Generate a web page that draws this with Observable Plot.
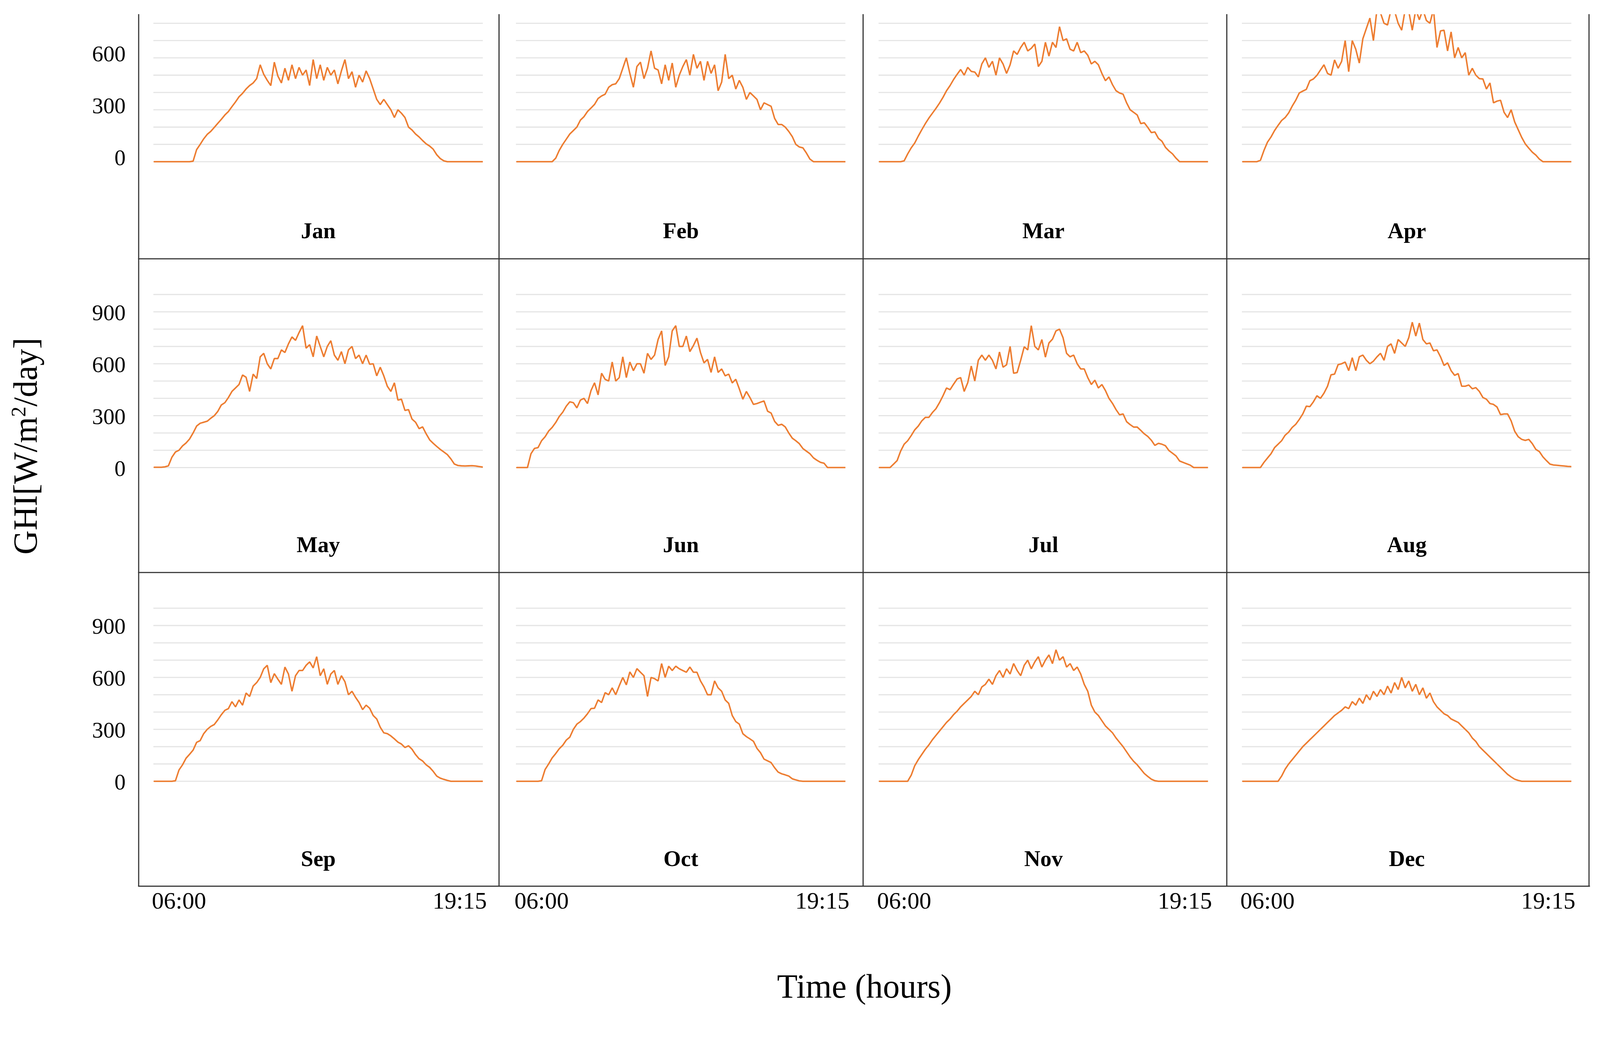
<!DOCTYPE html>
<html><head><meta charset="utf-8">
<script src="https://cdn.jsdelivr.net/npm/d3@7"></script>
<script src="https://cdn.jsdelivr.net/npm/@observablehq/plot@0.6"></script>
<style>
html,body{margin:0;padding:0;background:#fff;overflow:hidden;}
#wrap{position:relative;overflow:hidden;width:4298px;height:2707px;}
#page{position:absolute;left:0;top:0;width:4298px;height:2707px;background:#fff;overflow:hidden;font-family:"Liberation Serif","Times New Roman",serif;color:#000;transform-origin:0 0;}
.panel{position:absolute;}
.panel svg{display:block;overflow:hidden;max-width:none;}
.vline{position:absolute;width:3px;background:#333;}
.hline{position:absolute;height:3px;background:#333;}
#ylabel{position:absolute;left:69px;top:1199px;transform:translate(-50%,-50%) rotate(-90deg);font-size:90px;white-space:nowrap;line-height:1;}
#ylabel sup{font-size:0.62em;vertical-align:0.55em;line-height:0;}
#xlabel{position:absolute;left:2322px;top:2651px;transform:translate(-50%,-50%);font-size:90px;white-space:nowrap;line-height:1;}
</style></head><body><div id="wrap"><div id="page"></div></div>
<script>
// ---- data -------------------------------------------------------------
const times = [
"04:50",
"05:00","05:10","05:20","05:30","05:40","05:50",
"06:00","06:10","06:20","06:30","06:40","06:50",
"07:00","07:10","07:20","07:30","07:40","07:50",
"08:00","08:10","08:20","08:30","08:40","08:50",
"09:00","09:10","09:20","09:30","09:40","09:50",
"10:00","10:10","10:20","10:30","10:40","10:50",
"11:00","11:10","11:20","11:30","11:40","11:50",
"12:00","12:10","12:20","12:30","12:40","12:50",
"13:00","13:10","13:20","13:30","13:40","13:50",
"14:00","14:10","14:20","14:30","14:40","14:50",
"15:00","15:10","15:20","15:30","15:40","15:50",
"16:00","16:10","16:20","16:30","16:40","16:50",
"17:00","17:10","17:20","17:30","17:40","17:50",
"18:00","18:10","18:20","18:30","18:40","18:50",
"19:00","19:10","19:20","19:30","19:40","19:50",
"20:00","20:10","20:20"];

const months = ["Jan","Feb","Mar","Apr","May","Jun","Jul","Aug","Sep","Oct","Nov","Dec"];

const jan = [0,
 0,0,0,0,0,0,
 0,0,0,0,3,70,
 100,132,158,175,198,222,
 245,270,290,318,345,375,
 395,420,440,455,480,560,
 505,470,440,575,495,455,
 540,470,560,480,545,500,
 530,440,590,480,560,470,
 545,500,530,450,525,590,
 480,520,430,500,460,525,
 480,420,360,330,360,330,
 300,255,300,280,255,200,
 183,160,143,122,103,90,
 72,40,18,5,0,0,
 0,0,0,0,0,0,
 0,0,0];
const feb = [0,
 0,0,0,0,0,0,
 0,0,0,0,20,65,
 100,130,160,180,200,240,
 260,290,310,331,365,380,
 390,430,445,450,480,540,
 600,510,430,550,575,480,
 540,640,540,530,450,560,
 470,570,430,500,550,590,
 500,620,540,580,470,580,
 510,560,410,460,620,480,
 500,420,470,430,360,400,
 380,360,300,340,330,320,
 250,215,215,200,175,145,
 100,85,80,50,15,0,
 0,0,0,0,0,0,
 0,0,0];
const mar = [0,
 0,0,0,0,0,0,
 5,45,80,108,148,185,
 220,252,280,308,338,372,
 410,440,475,505,533,500,
 545,522,518,490,565,600,
 545,580,500,600,565,510,
 560,640,620,660,690,640,
 655,680,550,580,690,610,
 690,660,780,700,710,650,
 640,690,630,640,615,565,
 580,560,510,468,490,445,
 410,397,390,340,300,285,
 270,220,225,198,168,172,
 135,118,83,62,45,20,
 0,0,0,0,0,0,
 0,0,0];
const apr = [0,
 0,0,0,0,8,65,
 113,143,180,210,238,255,
 282,321,355,397,408,418,
 468,478,499,530,560,510,
 500,588,540,580,700,520,
 700,650,570,710,770,830,
 700,880,860,800,790,880,
 870,800,760,880,870,760,
 880,820,880,816,800,880,
 660,756,760,640,750,600,
 660,600,630,500,540,500,
 480,478,420,455,340,350,
 355,285,255,300,230,185,
 140,103,78,55,38,15,
 0,0,0,0,0,0,
 0,0,0];
const may = [2,
 2,2,4,10,60,90,
 100,125,142,165,200,240,
 256,262,268,285,300,325,
 362,375,405,440,460,480,
 535,522,440,540,515,640,
 660,600,570,630,630,680,
 665,715,755,735,780,820,
 690,710,640,760,700,640,
 700,733,650,620,670,600,
 680,700,630,650,600,650,
 597,600,530,580,530,470,
 440,490,390,395,330,335,
 280,262,225,235,195,160,
 140,122,105,90,75,50,
 20,12,10,9,10,11,
 9,6,3];
const jun = [0,
 0,0,0,80,111,115,
 155,178,211,232,260,295,
 320,355,380,375,345,390,
 400,370,445,490,420,545,
 510,500,610,500,520,640,
 520,610,560,600,600,545,
 660,625,650,740,790,590,
 640,790,820,700,700,760,
 670,705,748,665,605,625,
 550,640,550,570,530,540,
 489,510,455,395,440,405,
 365,370,378,385,326,315,
 267,244,250,235,200,170,
 155,138,110,95,80,56,
 42,30,25,0,0,0,
 0,0,0];
const jul = [0,
 0,0,0,20,40,95,
 135,155,185,218,240,270,
 290,290,318,340,375,415,
 460,450,482,512,520,440,
 490,587,500,620,650,620,
 650,620,570,668,580,594,
 700,545,549,620,698,680,
 820,700,680,740,638,720,
 742,790,800,750,660,640,
 650,600,570,570,520,480,
 505,460,480,445,400,371,
 335,305,310,265,248,234,
 234,215,195,180,158,128,
 140,135,126,98,83,67,
 38,30,22,14,0,0,
 0,0,0];
const aug = [0,
 0,0,0,0,0,30,
 55,80,115,135,155,187,
 205,232,250,278,310,355,
 352,380,415,400,430,470,
 536,540,595,600,610,560,
 635,560,640,650,620,600,
 615,640,660,620,700,715,
 660,740,720,700,750,840,
 760,835,740,715,720,675,
 680,640,590,605,560,533,
 543,470,470,477,455,462,
 440,405,395,370,365,350,
 306,310,310,270,210,178,
 163,157,163,138,105,92,
 62,40,20,15,13,11,
 9,7,6];
const sep = [0,
 0,0,0,0,0,3,
 65,95,133,156,180,225,
 235,275,300,317,328,355,
 385,410,420,460,430,470,
 440,510,490,550,570,600,
 650,670,570,622,590,560,
 660,620,520,610,640,640,
 670,690,655,720,610,650,
 560,620,640,560,610,575,
 500,520,485,455,414,440,
 422,380,360,312,280,275,
 262,245,226,215,195,205,
 185,154,130,117,95,80,
 57,30,18,11,5,0,
 0,0,0,0,0,0,
 0,0,0];
const oct = [0,
 0,0,0,0,0,0,
 3,68,100,135,160,188,
 208,238,255,300,330,345,
 365,390,420,422,470,455,
 512,500,540,500,552,600,
 557,632,600,651,630,610,
 490,600,593,580,680,600,
 665,640,665,650,640,630,
 660,630,630,580,545,500,
 500,580,540,520,470,450,
 380,345,330,275,258,245,
 231,190,165,128,118,108,
 78,53,43,37,30,14,
 8,2,0,0,0,0,
 0,0,0,0,0,0,
 0,0,0];
const nov = [0,
 0,0,0,0,0,0,
 0,0,35,90,125,155,
 185,210,240,265,290,315,
 340,360,385,405,430,450,
 470,490,520,500,545,560,
 590,560,610,640,600,650,
 620,680,640,610,670,700,
 650,690,720,660,700,730,
 680,760,700,720,660,680,
 640,660,620,560,520,440,
 400,380,350,320,300,280,
 250,225,200,170,140,115,
 95,70,45,28,12,3,
 0,0,0,0,0,0,
 0,0,0,0,0,0,
 0,0,0];
const dec = [0,
 0,0,0,0,0,0,
 0,0,0,0,30,70,
 100,125,150,175,200,220,
 240,260,280,300,320,340,
 360,380,395,410,430,420,
 460,440,480,450,500,470,
 520,490,530,500,550,510,
 570,530,600,540,580,520,
 560,500,540,480,510,460,
 430,410,390,380,360,350,
 340,320,300,280,250,230,
 200,180,160,140,120,100,
 80,60,40,25,12,5,
 0,0,0,0,0,0,
 0,0,0,0,0,0,
 0,0,0];

const series = [jan, feb, mar, apr, may, jun, jul, aug, sep, oct, nov, dec];
const yTicksTopRow = [0, 300, 600];
const yTicksOther = [0, 300, 600, 900];
const gridTopRow = [0, 100, 200, 300, 400, 500, 600, 700, 800];
const gridOther = [0, 100, 200, 300, 400, 500, 600, 700, 800, 900, 1000];
const xTickLabels = ["06:00", "19:15"];

// ---- layout -----------------------------------------------------------
const toH = s => { const [h, m] = s.split(":").map(Number); return h + m / 60; };
const tHours = times.map(toH);
const xTickHours = xTickLabels.map(toH);
const colLeft = [372, 1340, 2318, 3295], colRight = [1340, 2318, 3295, 4268];
const plotLeft = [412, 1386, 2360, 3336], plotW = 885;
const rowTop = [38, 697, 1539], rowBottom = [695, 1538, 2480];
const zeroY = [434, 1256, 2099];
const labelY = [620, 1464, 2308];
const wrap = document.getElementById("wrap");
const page = document.getElementById("page");
const font = "'Liberation Serif','Times New Roman',serif";

// fit the 4298x2707 design into the actual viewport
const vw = window.innerWidth || 4298;
const sc = vw / 4298;
if (Math.abs(sc - 1) > 0.002) page.style.transform = `scale(${sc})`;
wrap.style.width = (4298 * sc) + "px";
wrap.style.height = (2707 * sc) + "px";

series.forEach((vals, i) => {
  const col = i % 4, row = Math.floor(i / 4);
  const left = col === 0 ? 180 : colLeft[col];
  const width = colRight[col] - left;
  const top = rowTop[row], height = rowBottom[row] - top;
  const z = zeroY[row] - top;
  const mL = plotLeft[col] - left, mR = width - mL - plotW;
  const frameBottom = z + 20;
  const mB = height - frameBottom;
  const data = tHours.map((t, k) => ({t, v: vals[k]}));
  const marks = [
    Plot.ruleY(row === 0 ? gridTopRow : gridOther, {stroke: "#e4e4e4", strokeWidth: 3}),
    Plot.lineY(data, {x: "t", y: "v", stroke: "#ED7D31", strokeWidth: 4, strokeLinejoin: "miter", clip: true}),
    Plot.text([months[i]], {text: d => d, frameAnchor: "top", lineAnchor: "middle", dy: labelY[row] - top,
      fontWeight: "bold", fontSize: 60, fill: "#000"})
  ];
  if (col === 0) marks.push(Plot.axisY({ticks: row === 0 ? yTicksTopRow : yTicksOther,
    anchor: "left", label: null, tickSize: 0, tickPadding: 75, dy: row === 0 ? -10 : 3, fontSize: 60}));
  if (row === 2) marks.push(Plot.axisX({ticks: xTickHours,
    tickFormat: d => xTickLabels[xTickHours.indexOf(d)], label: null,
    anchor: "bottom", tickSize: 0, tickPadding: (2396 - top) - frameBottom, fontSize: 64}));
  const chart = Plot.plot({
    width, height, marginLeft: mL, marginRight: mR, marginTop: 0, marginBottom: mB,
    x: {domain: [4.8, 20.35], label: null, ...(row === 2 ? {} : {axis: null})},
    y: {domain: [0, 1000], range: [z, z - 465], label: null, ...(col === 0 ? {} : {axis: null})},
    style: {fontFamily: font, fontSize: "60px", color: "#000", background: "transparent", overflow: "hidden"},
    marks
  });
  const div = document.createElement("div");
  div.className = "panel";
  div.style.left = left + "px";
  div.style.top = top + "px";
  div.appendChild(chart);
  page.appendChild(div);
});

// panel borders
[372, 1340, 2318, 3295, 4268].forEach(x => {
  const d = document.createElement("div");
  d.className = "vline";
  d.style.left = (x - 1) + "px"; d.style.top = "38px"; d.style.height = (2382 - 38) + "px";
  page.appendChild(d);
});
[695, 1538, 2381].forEach(y => {
  const d = document.createElement("div");
  d.className = "hline";
  d.style.left = "371px"; d.style.top = (y - 1) + "px"; d.style.width = (4271 - 371) + "px";
  page.appendChild(d);
});

const yl = document.createElement("div");
yl.id = "ylabel";
yl.innerHTML = "GHI[W/m<sup>2</sup>/day]";
page.appendChild(yl);
const xl = document.createElement("div");
xl.id = "xlabel";
xl.textContent = "Time (hours)";
page.appendChild(xl);
</script>
</body></html>
